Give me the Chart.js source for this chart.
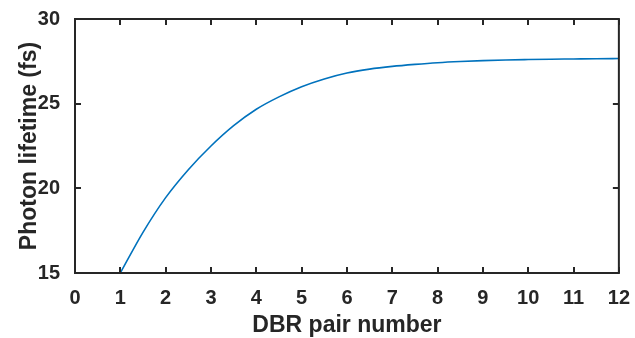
<!DOCTYPE html>
<html>
<head>
<meta charset="utf-8">
<script src="https://cdn.jsdelivr.net/npm/chart.js@4/dist/chart.umd.min.js"></script>
<style>
  html, body { margin: 0; padding: 0; background: #fff; }
  #wrap { width: 635px; height: 338px; }
</style>
</head>
<body>
<div id="wrap"><canvas id="c" width="635" height="338"></canvas></div>
<script>
const pairNumbers = [1, 1.5, 2, 2.5, 3, 3.5, 4, 4.5, 5, 5.5, 6, 6.5, 7, 7.5, 8, 8.5, 9, 9.5, 10, 10.5, 11, 11.5, 12];
const lifetimes = [15.0, 17.4, 19.45, 21.1, 22.5, 23.7, 24.67, 25.4, 26.0, 26.46, 26.81, 27.04, 27.2, 27.32, 27.42, 27.49, 27.54, 27.58, 27.605, 27.625, 27.64, 27.655, 27.665];
const xTicks = [0, 1, 2, 3, 4, 5, 6, 7, 8, 9, 10, 11, 12];
const yTicks = [15, 20, 25, 30];
const xTitle = 'DBR pair number';
const yTitle = 'Photon lifetime (fs)';

const axisColor = '#262626';
const fontFamily = '"Liberation Sans", Arial, sans-serif';

const points = pairNumbers.map((x, i) => ({ x: x, y: lifetimes[i] }));

const framePlugin = {
  id: 'frame',
  afterDatasetsDraw(chart) {
    const ctx = chart.ctx;
    const a = chart.chartArea;
    const xs = chart.scales.x, ys = chart.scales.y;
    ctx.save();
    ctx.strokeStyle = axisColor;
    ctx.lineWidth = 2;
    ctx.beginPath();
    ctx.rect(a.left, a.top, a.right - a.left, a.bottom - a.top);
    ctx.stroke();
    const tl = 6;
    ctx.beginPath();
    xTicks.forEach(v => {
      const px = Math.round(xs.getPixelForValue(v));
      ctx.moveTo(px, a.bottom); ctx.lineTo(px, a.bottom - tl);
      ctx.moveTo(px, a.top); ctx.lineTo(px, a.top + tl);
    });
    yTicks.forEach(v => {
      const py = Math.round(ys.getPixelForValue(v));
      ctx.moveTo(a.left, py); ctx.lineTo(a.left + tl, py);
      ctx.moveTo(a.right, py); ctx.lineTo(a.right - tl, py);
    });
    ctx.stroke();
    ctx.restore();
  }
};

new Chart(document.getElementById('c'), {
  type: 'scatter',
  data: {
    datasets: [{
      data: points,
      showLine: true,
      borderColor: '#0072BD',
      borderWidth: 1.6,
      pointRadius: 0,
      cubicInterpolationMode: 'monotone',
      fill: false
    }]
  },
  options: {
    responsive: false,
    animation: false,
    devicePixelRatio: 1,
    layout: { padding: { top: 16, right: 13, left: 0, bottom: 0 } },
    plugins: { legend: { display: false }, tooltip: { enabled: false } },
    scales: {
      x: {
        type: 'linear',
        min: 0, max: 12,
        afterBuildTicks: s => { s.ticks = xTicks.map(v => ({ value: v })); },
        afterFit: s => { s.height = 65; },
        grid: { display: false },
        border: { display: false },
        ticks: { color: axisColor, font: { family: fontFamily, size: 20, weight: 'bold' }, padding: 5, maxRotation: 0 },
        title: { display: true, text: xTitle, color: axisColor, font: { family: fontFamily, size: 23, weight: 'bold' }, padding: { top: 0, bottom: -1 } }
      },
      y: {
        type: 'linear',
        min: 15, max: 30,
        afterBuildTicks: s => { s.ticks = yTicks.map(v => ({ value: v })); },
        afterFit: s => { s.width = 75; },
        grid: { display: false },
        border: { display: false },
        ticks: { color: axisColor, font: { family: fontFamily, size: 20, weight: 'bold' }, padding: 7 },
        title: { display: true, text: yTitle, color: axisColor, font: { family: fontFamily, size: 23, weight: 'bold' }, padding: { top: 16, bottom: 0 } }
      }
    }
  },
  plugins: [framePlugin]
});
</script>
</body>
</html>
